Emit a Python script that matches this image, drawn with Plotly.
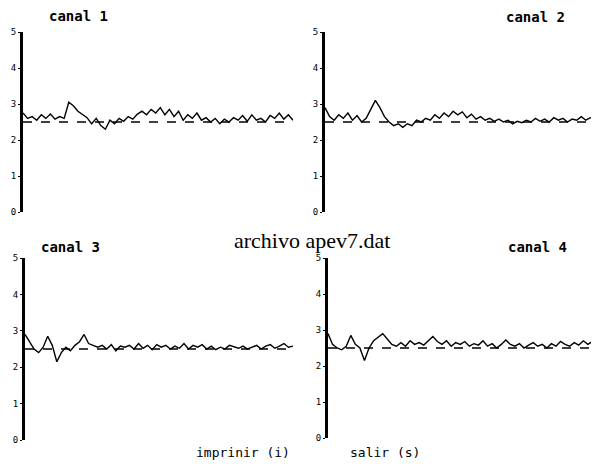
import plotly.graph_objects as go

# ---- data ----
canal1 = [2.75, 2.6, 2.65, 2.55, 2.7, 2.6, 2.72, 2.58, 2.65, 2.6, 3.05, 2.95, 2.8, 2.7, 2.62,
          2.45, 2.6, 2.4, 2.3, 2.55, 2.45, 2.6, 2.52, 2.65, 2.58, 2.72, 2.8, 2.7, 2.85, 2.75,
          2.9, 2.7, 2.85, 2.65, 2.8, 2.55, 2.7, 2.6, 2.75, 2.55, 2.62, 2.5, 2.6, 2.45, 2.58,
          2.5, 2.62, 2.55, 2.68, 2.52, 2.7, 2.55, 2.6, 2.5, 2.68, 2.6, 2.75, 2.58, 2.7, 2.55]
canal2 = [2.9, 2.65, 2.55, 2.7, 2.6, 2.75, 2.55, 2.68, 2.5, 2.6, 2.85, 3.1, 2.9, 2.65, 2.5,
          2.4, 2.45, 2.35, 2.45, 2.4, 2.55, 2.5, 2.6, 2.55, 2.7, 2.6, 2.75, 2.65, 2.8, 2.7,
          2.78, 2.62, 2.72, 2.58, 2.65, 2.55, 2.6, 2.52, 2.58, 2.5, 2.55, 2.45, 2.52, 2.48, 2.55,
          2.5, 2.6, 2.52, 2.58, 2.5, 2.62, 2.55, 2.6, 2.5, 2.58, 2.55, 2.65, 2.55, 2.62, 2.58]
canal3 = [2.9, 2.7, 2.5, 2.4, 2.55, 2.85, 2.6, 2.15, 2.4, 2.55, 2.45, 2.6, 2.7, 2.9, 2.65,
          2.6, 2.55, 2.6, 2.5, 2.62, 2.45, 2.58, 2.55, 2.6, 2.5, 2.65, 2.52, 2.6, 2.48, 2.62,
          2.55, 2.6, 2.5, 2.58, 2.52, 2.65, 2.5, 2.6, 2.55, 2.62, 2.5, 2.58, 2.48, 2.55, 2.5,
          2.6, 2.55, 2.52, 2.58, 2.5, 2.55, 2.6, 2.5, 2.58, 2.62, 2.52, 2.58, 2.65, 2.55, 2.58]
canal4 = [2.9, 2.6, 2.5, 2.45, 2.55, 2.85, 2.6, 2.5, 2.15, 2.5, 2.7, 2.8, 2.9, 2.75, 2.6,
          2.55, 2.65, 2.55, 2.7, 2.6, 2.65, 2.58, 2.7, 2.82, 2.68, 2.6, 2.7, 2.55, 2.65, 2.6,
          2.68, 2.55, 2.62, 2.58, 2.7, 2.55, 2.62, 2.5, 2.6, 2.72, 2.6, 2.55, 2.62, 2.5, 2.58,
          2.65, 2.55, 2.6, 2.5, 2.62, 2.55, 2.68, 2.6, 2.55, 2.65, 2.58, 2.7, 2.6, 2.68, 2.58]
series = [canal1, canal2, canal3, canal4]
titles = ["canal 1", "canal 2", "canal 3", "canal 4"]
tick_vals = [0, 1, 2, 3, 4, 5]
tick_text = ["0", "1", "2", "3", "4", "5"]
reference_level = 2.5

# page offset of the plot div (default body margin)
OFF = 8
W, H = 599 - OFF, 464 - OFF


def px_x(p):
    return (p - OFF) / W


def px_y(p):
    return 1 - (p - OFF) / H


# panel boxes in page pixels: (left, right, top(y=5), bottom(y=0))
boxes = [(23, 293, 32, 212), (325, 595, 32, 212), (25, 293, 258, 440), (328, 597, 258, 438)]
title_pos = [(78, 16), (535, 17), (70, 247), (537, 247)]

mono = "DejaVu Sans Mono"
fig = go.Figure()
layout = dict(width=W, height=H, margin=dict(l=0, r=0, t=0, b=0, autoexpand=False),
              paper_bgcolor="white", plot_bgcolor="white", showlegend=False)
shapes = []
annotations = []
for i, (vals, (l, r, t, b)) in enumerate(zip(series, boxes)):
    n = i + 1
    xs = list(range(len(vals)))
    fig.add_trace(go.Scatter(x=xs, y=vals, mode="lines",
                             line=dict(color="black", width=1.4),
                             xaxis=f"x{n}", yaxis=f"y{n}"))
    xa = "xaxis" if n == 1 else f"xaxis{n}"
    ya = "yaxis" if n == 1 else f"yaxis{n}"
    layout[xa] = dict(domain=[px_x(l), min(px_x(r), 1)], range=[0, len(vals) - 1],
                      visible=False, anchor=f"y{n}", automargin=False)
    layout[ya] = dict(domain=[px_y(b), px_y(t)], range=[0, 5], anchor=f"x{n}",
                      showline=True, linewidth=3, linecolor="black", showgrid=False,
                      zeroline=False, tickvals=tick_vals, ticktext=tick_text,
                      ticks="outside", ticklen=2, tickwidth=1, tickcolor="black",
                      automargin=False,
                      tickfont=dict(family=mono, size=9, color="black"))
    shapes.append(dict(type="line", xref=f"x{n}", yref=f"y{n}", x0=0, x1=len(vals) - 1,
                       y0=reference_level, y1=reference_level,
                       line=dict(color="black", width=1.3, dash="dash")))
    tx, ty = title_pos[i]
    annotations.append(dict(text=f"<b>{titles[i]}</b>", x=px_x(tx), y=px_y(ty),
                            xref="paper", yref="paper", showarrow=False,
                            xanchor="center", yanchor="middle",
                            font=dict(family=mono, size=14, color="black")))

annotations.append(dict(text="archivo apev7.dat", x=px_x(312), y=px_y(240), xref="paper",
                        yref="paper", showarrow=False, xanchor="center", yanchor="middle",
                        font=dict(family="Liberation Serif", size=22, color="black")))
annotations.append(dict(text="imprinir (i)", x=px_x(243), y=px_y(452), xref="paper",
                        yref="paper", showarrow=False, xanchor="center", yanchor="middle",
                        font=dict(family=mono, size=13, color="black")))
annotations.append(dict(text="salir (s)", x=px_x(385), y=px_y(452), xref="paper",
                        yref="paper", showarrow=False, xanchor="center", yanchor="middle",
                        font=dict(family=mono, size=13, color="black")))
layout["shapes"] = shapes
layout["annotations"] = annotations
fig.update_layout(**layout)
fig.write_html("out.html")
